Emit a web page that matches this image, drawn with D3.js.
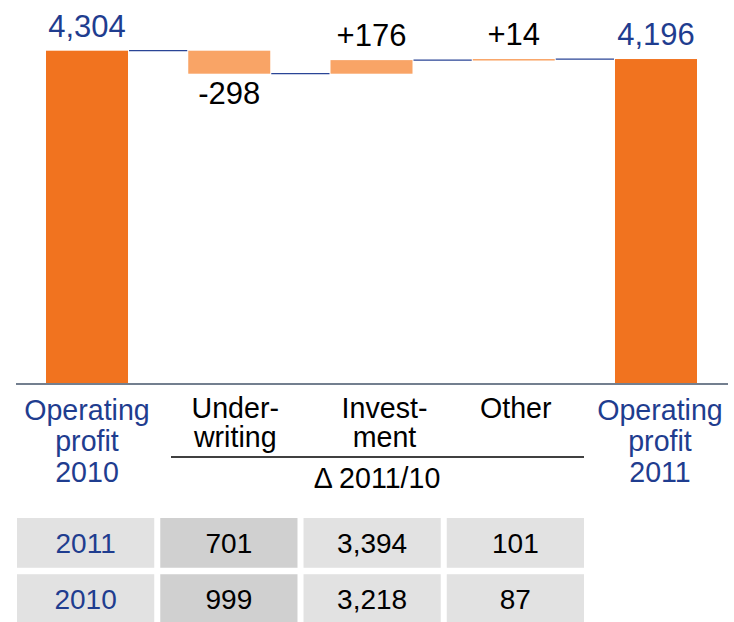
<!DOCTYPE html>
<html>
<head>
<meta charset="utf-8">
<script src="https://cdn.jsdelivr.net/npm/d3@7"></script>
<style>
  html, body { margin: 0; padding: 0; background: #fff; }
  svg { display: block; font-family: "Liberation Sans", Arial, sans-serif; }
</style>
</head>
<body>
<svg id="chart" width="734" height="622"></svg>
<script>
// ---- data ----
const categories = ["Operating profit 2010", "Underwriting", "Investment", "Other", "Operating profit 2011"];
const categoryLines = [["Operating", "profit", "2010"], ["Under-", "writing"], ["Invest-", "ment"], ["Other"], ["Operating", "profit", "2011"]];
const kinds = ["total", "delta", "delta", "delta", "total"];
const values = [4304, -298, 176, 14, 4196];
const valueLabels = ["4,304", "-298", "+176", "+14", "4,196"];
const deltaCaption = "Δ 2011/10";

const tableYears = ["2011", "2010"];
const tableUnderwriting = ["701", "999"];
const tableInvestment = ["3,394", "3,218"];
const tableOther = ["101", "87"];

// ---- drawing ----
const svg = d3.select("#chart");
const blue = "#1f3d8f";
const darkOrange = "#f1731f";
const lightOrange = "#f9a466";
const labelShift = [0, 6, 13, 2, 4]; // layout nudges for category label text

const x = d3.scaleBand().domain(categories).range([46, 697]).paddingInner(0.4235).paddingOuter(0);
const y = d3.scaleLinear().domain([0, 4304]).range([383, 50.7]);

// compute waterfall extents
let running = 0;
const bars = categories.map((c, i) => {
  let y0, y1;
  if (kinds[i] === "total") { y0 = 0; y1 = values[i]; running = values[i]; }
  else { y0 = running; y1 = running + values[i]; running = y1; }
  return { cat: c, kind: kinds[i], lo: Math.min(y0, y1), hi: Math.max(y0, y1), end: running, value: values[i], label: valueLabels[i], neg: values[i] < 0 && kinds[i] === "delta" };
});

// connectors
for (let i = 0; i < bars.length - 1; i++) {
  svg.append("line")
    .attr("x1", x(bars[i].cat) + x.bandwidth() + 1)
    .attr("x2", x(bars[i + 1].cat) - 1)
    .attr("y1", y(bars[i].end)).attr("y2", y(bars[i].end))
    .attr("stroke", "#2a4596").attr("stroke-width", 1.3);
}

// bars
svg.selectAll("rect.bar").data(bars).enter().append("rect")
  .attr("class", "bar")
  .attr("x", d => x(d.cat))
  .attr("width", x.bandwidth())
  .attr("y", d => y(d.hi))
  .attr("height", d => Math.max(1.5, y(d.lo) - y(d.hi)))
  .attr("fill", d => d.kind === "total" ? darkOrange : lightOrange);

// baseline
svg.append("line").attr("x1", 16).attr("x2", 728).attr("y1", 384).attr("y2", 384)
  .attr("stroke", "#44546a").attr("stroke-width", 1.5);

// value labels
svg.selectAll("text.val").data(bars).enter().append("text")
  .attr("class", "val")
  .attr("x", d => x(d.cat) + x.bandwidth() / 2)
  .attr("y", d => d.neg ? y(d.lo) + 30 : y(d.hi) - 14)
  .attr("text-anchor", "middle")
  .attr("font-size", 31)
  .attr("fill", d => d.kind === "total" ? blue : "#000")
  .text(d => d.label);

// category labels
categories.forEach((c, i) => {
  const isTotal = kinds[i] === "total";
  const cx = x(c) + x.bandwidth() / 2 + labelShift[i];
  const t = svg.append("text")
    .attr("x", cx)
    .attr("y", isTotal ? 420 : 418)
    .attr("text-anchor", "middle")
    .attr("font-size", 28.6)
    .attr("fill", isTotal ? blue : "#000");
  categoryLines[i].forEach((ln, j) => {
    t.append("tspan").attr("x", cx)
      .attr("dy", j === 0 ? 0 : (isTotal ? 31 : 29)).text(ln);
  });
});

// delta bracket
svg.append("line").attr("x1", 171).attr("x2", 584).attr("y1", 457).attr("y2", 457)
  .attr("stroke", "#000").attr("stroke-width", 1.5);
svg.append("text").attr("x", 377).attr("y", 488).attr("text-anchor", "middle")
  .attr("font-size", 28.6).attr("fill", "#000").text(deltaCaption);

// table
const cols = ["year", "uw", "inv", "oth"];
const colData = [tableYears, tableUnderwriting, tableInvestment, tableOther];
const colFill = ["#e2e2e2", "#d0d0d0", "#e2e2e2", "#e2e2e2"];
const colText = [blue, "#000", "#000", "#000"];
const tx = d3.scaleBand().domain(cols).range([17, 584]).paddingInner(0.042).paddingOuter(0);
const ty = d3.scaleBand().domain(tableYears).range([518, 624]).paddingInner(0.115).paddingOuter(0);

cols.forEach((c, ci) => {
  tableYears.forEach((r, ri) => {
    svg.append("rect").attr("x", tx(c)).attr("y", ty(r))
      .attr("width", tx.bandwidth()).attr("height", ty.bandwidth())
      .attr("fill", colFill[ci]);
    svg.append("text").attr("x", tx(c) + tx.bandwidth() / 2)
      .attr("y", ty(r) + ty.bandwidth() / 2 + 10)
      .attr("text-anchor", "middle").attr("font-size", 28)
      .attr("fill", colText[ci]).text(colData[ci][ri]);
  });
});
</script>
</body>
</html>
